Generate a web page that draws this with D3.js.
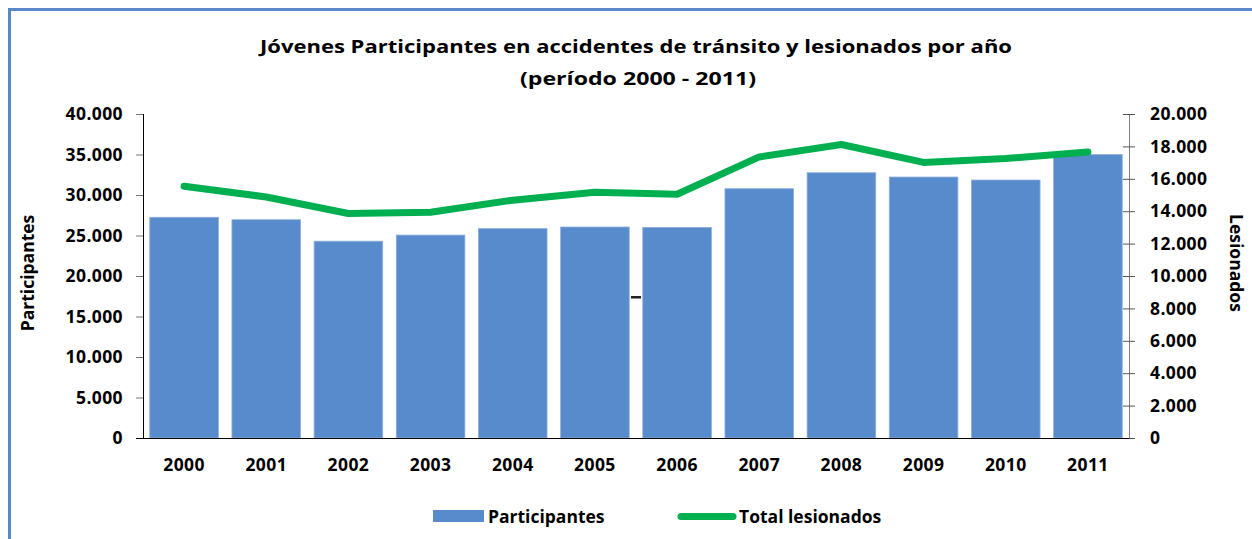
<!DOCTYPE html>
<html lang="es">
<head>
  <meta charset="UTF-8" />
  <title>Jóvenes Participantes en accidentes de tránsito</title>
  <style>
    body {
      margin: 0;
      background: white;
      overflow: hidden;
    }
    svg {
      display: block;
    }
    text {
      font-family: "Open Sans", Lato, sans-serif;
      font-weight: bold;
      fill: #000;
    }
  </style>
</head>
<body>
<svg id="chart" width="1252" height="539"></svg>
<script src="https://cdn.jsdelivr.net/npm/d3@7"></script>
<script>
// data
const years = ["2000", "2001", "2002", "2003", "2004", "2005", "2006", "2007", "2008", "2009", "2010", "2011"];
const participantes = [27250, 26950, 24300, 25050, 25850, 26050, 26000, 30780, 32750, 32220, 31850, 35000];
const lesionados = [15540, 14880, 13860, 13940, 14680, 15170, 15050, 17350, 18120, 17010, 17250, 17660];
const leftTicks = [0, 5000, 10000, 15000, 20000, 25000, 30000, 35000, 40000];
const rightTicks = [0, 2000, 4000, 6000, 8000, 10000, 12000, 14000, 16000, 18000, 20000];

const width = 1252;
const height = 539;
const plot = { left: 143, right: 1129, top: 114, bottom: 438 };
const fontFamily = "'Open Sans', Lato, sans-serif";

const locale = d3.formatLocale({ decimal: ",", thousands: ".", grouping: [3], currency: ["", ""] });
const fmt = locale.format(",d");

const svg = d3.select("#chart");

// blue frame (only top and left show inside the picture)
svg.append("rect")
  .attr("x", 9.5).attr("y", 9.5)
  .attr("width", width + 20).attr("height", height + 20)
  .attr("fill", "none")
  .attr("stroke", "#5A87C6")
  .attr("stroke-width", 3);

// title
const title = svg.append("text")
  .attr("text-anchor", "middle")
  .attr("font-size", 18.5);
title.append("tspan").attr("x", 636).attr("y", 53)
  .attr("textLength", 752).attr("lengthAdjust", "spacingAndGlyphs")
  .text("Jóvenes Participantes en accidentes de tránsito y lesionados por año");
title.append("tspan").attr("x", 638).attr("y", 85)
  .attr("textLength", 236).attr("lengthAdjust", "spacingAndGlyphs")
  .text("(período 2000 - 2011)");

const x = d3.scaleBand()
  .domain(years)
  .range([plot.left, plot.right])
  .paddingInner(0.165)
  .paddingOuter(0.0825);

const yLeft = d3.scaleLinear().domain([0, 40000]).range([plot.bottom, plot.top]);
const yRight = d3.scaleLinear().domain([0, 20000]).range([plot.bottom, plot.top]);

// bars
svg.append("g")
  .selectAll("rect")
  .data(years)
  .join("rect")
  .attr("x", d => x(d))
  .attr("width", x.bandwidth())
  .attr("y", (d, i) => yLeft(participantes[i]))
  .attr("height", (d, i) => plot.bottom - yLeft(participantes[i]))
  .attr("fill", "#588BCB")
  .attr("stroke", "#8FB0DD")
  .attr("stroke-width", 0.8);

function styleTicks(g) {
  g.selectAll(".tick text")
    .attr("font-size", 17.5)
    .attr("font-family", fontFamily)
    .attr("font-weight", "bold")
    .attr("letter-spacing", 0.4)
    .attr("fill", "#000");
}

// left axis
const axisL = svg.append("g")
  .attr("transform", `translate(${plot.left},0)`)
  .call(d3.axisLeft(yLeft).tickValues(leftTicks).tickFormat(fmt).tickSize(7).tickPadding(13));
axisL.select(".domain").attr("stroke", "#000").attr("d", `M0.5,${plot.top}V${plot.bottom}`);
axisL.selectAll(".tick line").attr("stroke", "#777");
styleTicks(axisL);

// right axis
const axisR = svg.append("g")
  .attr("transform", `translate(${plot.right},0)`)
  .call(d3.axisRight(yRight).tickValues(rightTicks).tickFormat(fmt).tickSize(6).tickPadding(15));
axisR.select(".domain").attr("stroke", "#808080").attr("d", `M0.5,${plot.top}V${plot.bottom}`);
axisR.selectAll(".tick line").attr("stroke", "#555").attr("x1", -6).attr("x2", 6);
styleTicks(axisR);

// x axis
const axisB = svg.append("g")
  .attr("transform", `translate(0,${plot.bottom})`)
  .call(d3.axisBottom(x).tickSize(0).tickPadding(21));
axisB.select(".domain").attr("stroke", "#000").attr("d", `M${plot.left - 7},0.5H${plot.right}`);
styleTicks(axisB);

// line
const line = d3.line()
  .x((d, i) => x(years[i]) + x.bandwidth() / 2)
  .y(d => yRight(d));

svg.append("path")
  .datum(lesionados)
  .attr("d", line)
  .attr("fill", "none")
  .attr("stroke", "#00B050")
  .attr("stroke-width", 7)
  .attr("stroke-linecap", "round")
  .attr("stroke-linejoin", "round");

// stray dash seen between the 2005 and 2006 bars
svg.append("rect")
  .attr("x", 631).attr("y", 296).attr("width", 10).attr("height", 2.5)
  .attr("fill", "#222");

// axis titles
svg.append("text")
  .attr("transform", "translate(34,273) rotate(-90)")
  .attr("text-anchor", "middle")
  .attr("font-size", 17.5)
  .text("Participantes");
svg.append("text")
  .attr("transform", "translate(1230,263) rotate(90)")
  .attr("text-anchor", "middle")
  .attr("font-size", 17.5)
  .text("Lesionados");

// legend
const legend = svg.append("g");
legend.append("rect")
  .attr("x", 433).attr("y", 510).attr("width", 51).attr("height", 12)
  .attr("fill", "#588BCB");
legend.append("text").attr("x", 488).attr("y", 523).attr("font-size", 17.5).text("Participantes");
legend.append("line")
  .attr("x1", 681).attr("x2", 733).attr("y1", 516.5).attr("y2", 516.5)
  .attr("stroke", "#00B050").attr("stroke-width", 7).attr("stroke-linecap", "round");
legend.append("text").attr("x", 739).attr("y", 523).attr("font-size", 17.5).text("Total lesionados");
</script>
</body>
</html>
